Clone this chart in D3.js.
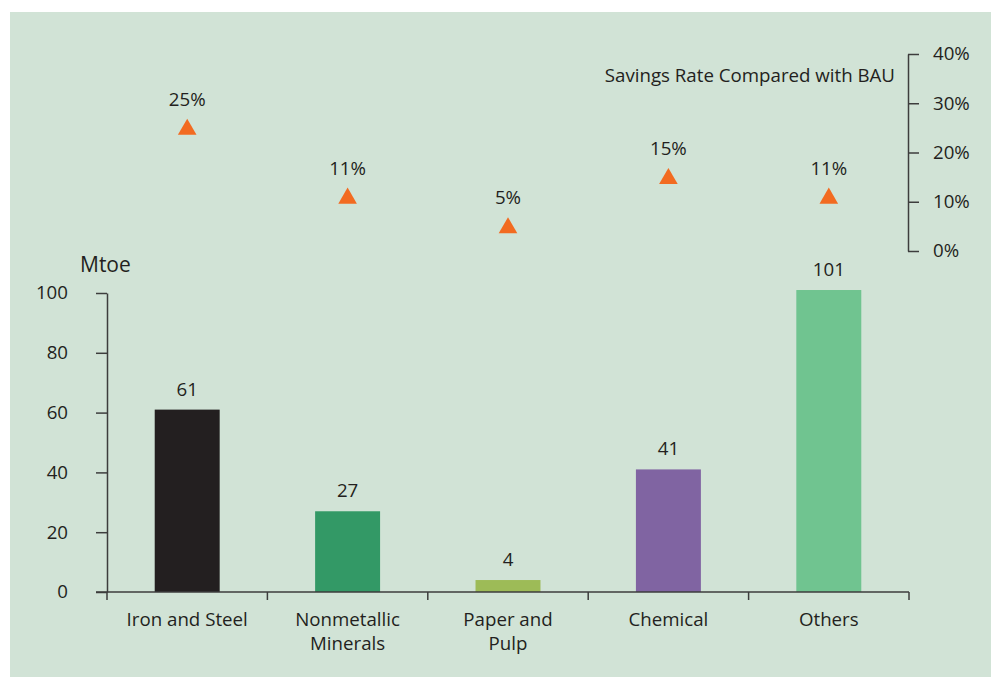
<!DOCTYPE html>
<html><head><meta charset="utf-8">
<script src="https://cdn.jsdelivr.net/npm/d3@7"></script>
<style>body{margin:0;background:#fff}svg{display:block}text{font-family:"Open Sans",sans-serif;fill:#231f20}</style>
</head><body><svg id="c" width="991" height="677"></svg>
<script>
const categories = [["Iron and Steel"], ["Nonmetallic","Minerals"], ["Paper and","Pulp"], ["Chemical"], ["Others"]];
const mtoe = [61, 27, 4, 41, 101];
const savingsRate = [25, 11, 5, 15, 11];
const barColors = ["#231f20", "#339966", "#9dbb57", "#8064a2", "#70c490"];
const leftTicks = [0, 20, 40, 60, 80, 100];
const rightTicks = [0, 10, 20, 30, 40];

const svg = d3.select("#c");
svg.append("rect").attr("x",10).attr("y",12).attr("width",981).attr("height",665).attr("fill","#d1e3d6");

const ids = categories.map((c,i)=>i);
const x = d3.scaleBand().domain(ids).range([107, 909]).paddingInner(0).paddingOuter(0);
const y = d3.scaleLinear().domain([0,100]).range([592, 293]);
const yr = d3.scaleLinear().domain([0,40]).range([251, 54]);
const axisColor = "#3d3d3d";
const fs = 18.7;

// left axis
const gl = svg.append("g").attr("transform","translate(107,0)")
  .call(d3.axisLeft(y).tickValues(leftTicks).tickSize(11).tickPadding(28).tickSizeOuter(0));
gl.select(".domain").attr("stroke",axisColor).attr("stroke-width",1.5);
gl.selectAll(".tick line").attr("stroke",axisColor).attr("stroke-width",1.5);
gl.selectAll(".tick text").attr("font-size",fs).attr("font-family","Open Sans").attr("fill","#231f20");

// right axis
const gr = svg.append("g").attr("transform","translate(908,0)")
  .call(d3.axisRight(yr).tickValues(rightTicks).tickFormat(d=>d+"%").tickSize(11).tickPadding(14).tickSizeOuter(0));
gr.select(".domain").attr("stroke",axisColor).attr("stroke-width",1.5);
gr.selectAll(".tick line").attr("stroke",axisColor).attr("stroke-width",1.5);
gr.selectAll(".tick text").attr("font-size",fs).attr("font-family","Open Sans").attr("fill","#231f20");

// bars
const bw = x.bandwidth()*0.405;
svg.selectAll("rect.bar").data(mtoe).join("rect").attr("class","bar")
  .attr("x",(d,i)=>x(i)+x.bandwidth()/2-bw/2).attr("width",bw)
  .attr("y",d=>y(d)).attr("height",d=>y(0)-y(d)).attr("fill",(d,i)=>barColors[i]);

// x axis
svg.append("line").attr("x1",96).attr("x2",909).attr("y1",592).attr("y2",592).attr("stroke",axisColor).attr("stroke-width",1.5);
ids.concat([5]).forEach(i=>{
  const xx = i<5 ? x(i) : 909;
  svg.append("line").attr("x1",xx).attr("x2",xx).attr("y1",592).attr("y2",600).attr("stroke",axisColor).attr("stroke-width",1.5);
});

// bar value labels
svg.selectAll("text.val").data(mtoe).join("text").attr("class","val")
  .attr("x",(d,i)=>x(i)+x.bandwidth()/2).attr("y",d=>y(d)-14)
  .attr("text-anchor","middle").attr("font-size",fs).text(d=>d);

// category labels
categories.forEach((lines,i)=>{
  const t = svg.append("text").attr("text-anchor","middle").attr("font-size",fs)
    .attr("x",x(i)+x.bandwidth()/2).attr("y",626);
  lines.forEach((l,j)=>t.append("tspan").attr("x",x(i)+x.bandwidth()/2).attr("dy",j?24:0).text(l));
});

// triangles
const tri = d3.symbol().type(d3.symbolTriangle).size(150);
svg.selectAll("path.tri").data(savingsRate).join("path").attr("class","tri")
  .attr("d",tri).attr("fill","#f26b21")
  .attr("transform",(d,i)=>`translate(${x(i)+x.bandwidth()/2},${yr(d)+1.5})`);
svg.selectAll("text.pct").data(savingsRate).join("text").attr("class","pct")
  .attr("x",(d,i)=>x(i)+x.bandwidth()/2).attr("y",d=>yr(d)-22)
  .attr("text-anchor","middle").attr("font-size",fs).text(d=>d+"%");

// titles
svg.append("text").attr("x",895).attr("y",82).attr("text-anchor","end").attr("font-size",fs).text("Savings Rate Compared with BAU");
svg.append("text").attr("x",80).attr("y",272).attr("font-size",21).text("Mtoe");
</script></body></html>
